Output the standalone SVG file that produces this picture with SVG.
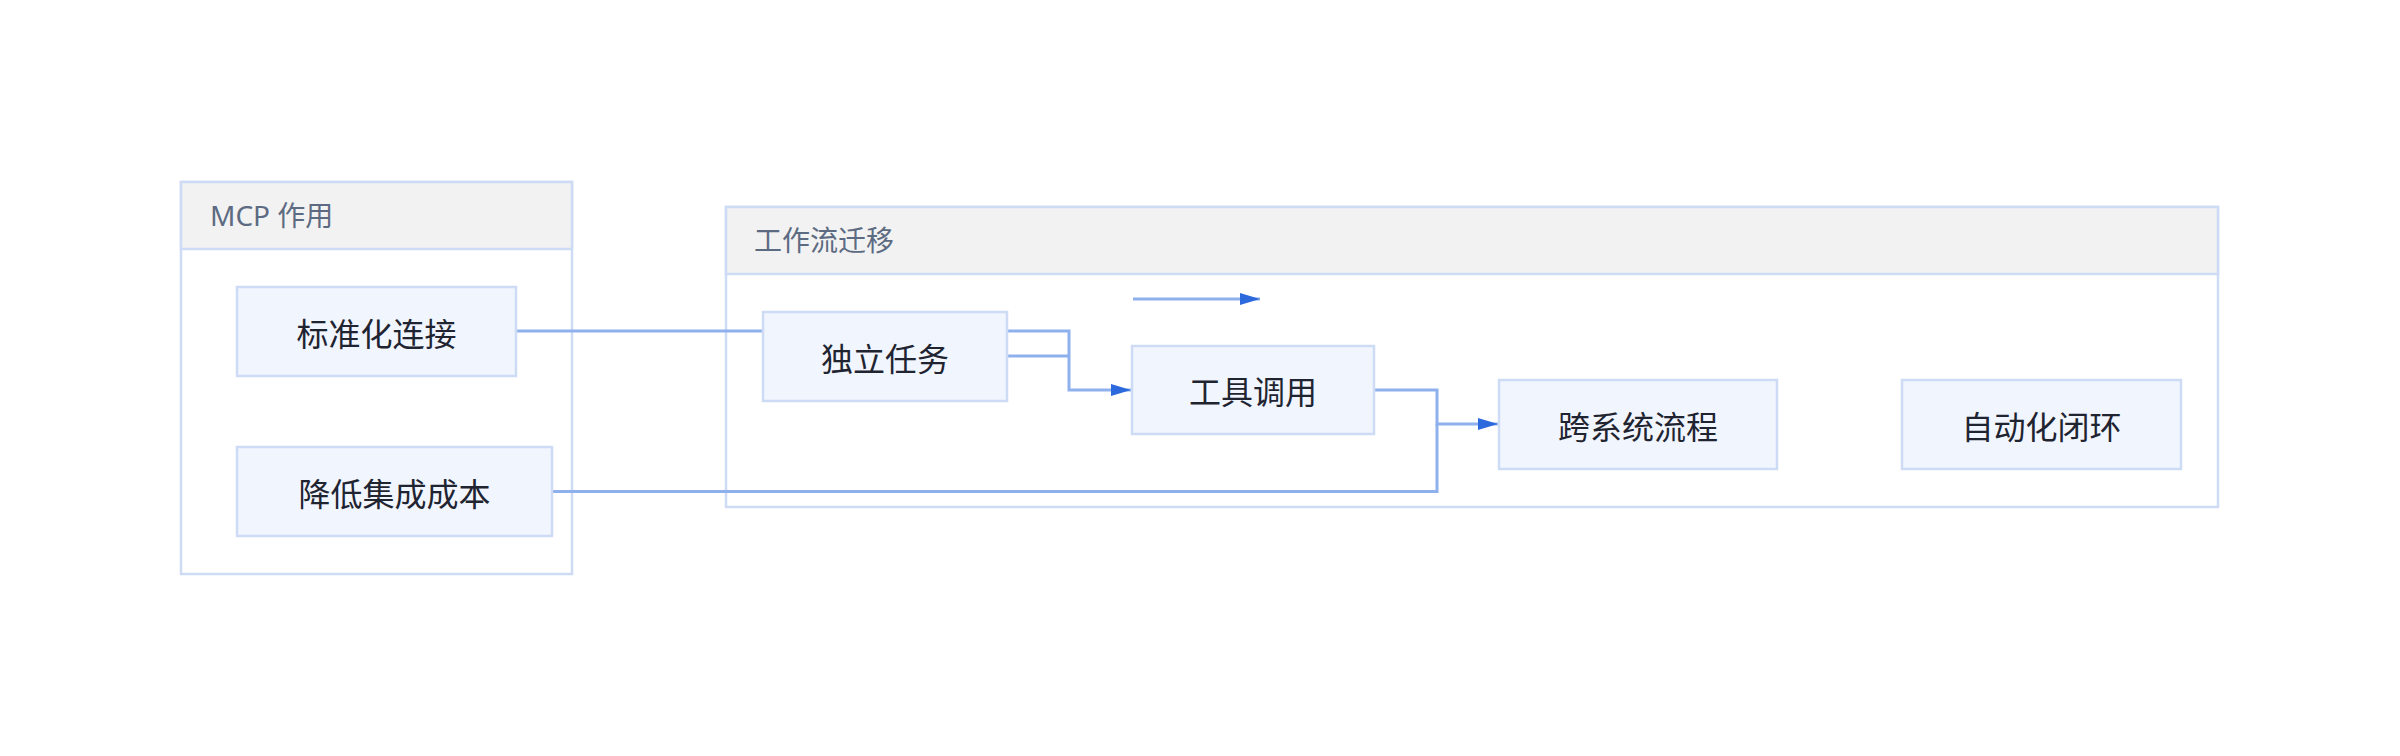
<svg xmlns="http://www.w3.org/2000/svg" width="2400" height="756" viewBox="0 0 2400 756">
<style>
.cluster{fill:#ffffff;stroke:#cddcf4;stroke-width:2.5}
.chead{fill:#f2f2f2;stroke:#cddcf4;stroke-width:2.5}
.ctitle{font-family:"Noto Sans","Noto Sans CJK SC",sans-serif;font-size:28px;fill:#5d6b82;dominant-baseline:central}
.node rect{fill:#f0f5fe;stroke:#cddcf4;stroke-width:2.5}
.node text{font-family:"Noto Sans CJK SC","Noto Sans",sans-serif;font-size:32px;fill:#1f2430;text-anchor:middle;dominant-baseline:central}
.edge{fill:none;stroke:#8eb1ee;stroke-width:3}
</style>
<defs>
<marker id="arr" markerUnits="userSpaceOnUse" markerWidth="20" markerHeight="12" refX="20" refY="6" orient="auto">
<path d="M0,0 L20,6 L0,12 z" fill="#2b69dc"/>
</marker>
</defs>
<rect width="2400" height="756" fill="#ffffff"/>
<g id="cluster-mcp">
<rect class="cluster" x="181" y="182" width="391" height="392"/>
<rect class="chead" x="181" y="182" width="391" height="67"/>
<text class="ctitle" x="210" y="215">MCP 作用</text>
</g>
<g id="cluster-workflow">
<rect class="cluster" x="726" y="207" width="1492" height="300"/>
<rect class="chead" x="726" y="207" width="1492" height="67"/>
<text class="ctitle" x="754" y="240">工作流迁移</text>
</g>
<g id="connectors">
<path class="edge" d="M516,331 H763"/>
<path class="edge" d="M1007,331 H1069 V390 H1131" marker-end="url(#arr)"/>
<path class="edge" d="M1007,356 H1069"/>
<path class="edge" d="M1374,390 H1437 V424 H1498" marker-end="url(#arr)"/>
<path class="edge" d="M552,491.5 H1437 V424"/>
<path class="edge" d="M1133,299 H1260" marker-end="url(#arr)"/>
</g>
<g id="node-standard" class="node">
<rect x="237" y="287" width="279" height="89"/>
<text x="376.5" y="331.5">标准化连接</text>
</g>
<g id="node-cost" class="node">
<rect x="237" y="447" width="315" height="89"/>
<text x="394.5" y="491.5">降低集成成本</text>
</g>
<g id="node-task" class="node">
<rect x="763" y="312" width="244" height="89"/>
<text x="885" y="356.5">独立任务</text>
</g>
<g id="node-tool" class="node">
<rect x="1132" y="346" width="242" height="88"/>
<text x="1253" y="390">工具调用</text>
</g>
<g id="node-cross" class="node">
<rect x="1499" y="380" width="278" height="89"/>
<text x="1638" y="424.5">跨系统流程</text>
</g>
<g id="node-auto" class="node">
<rect x="1902" y="380" width="279" height="89"/>
<text x="2041.5" y="424.5">自动化闭环</text>
</g>
</svg>
